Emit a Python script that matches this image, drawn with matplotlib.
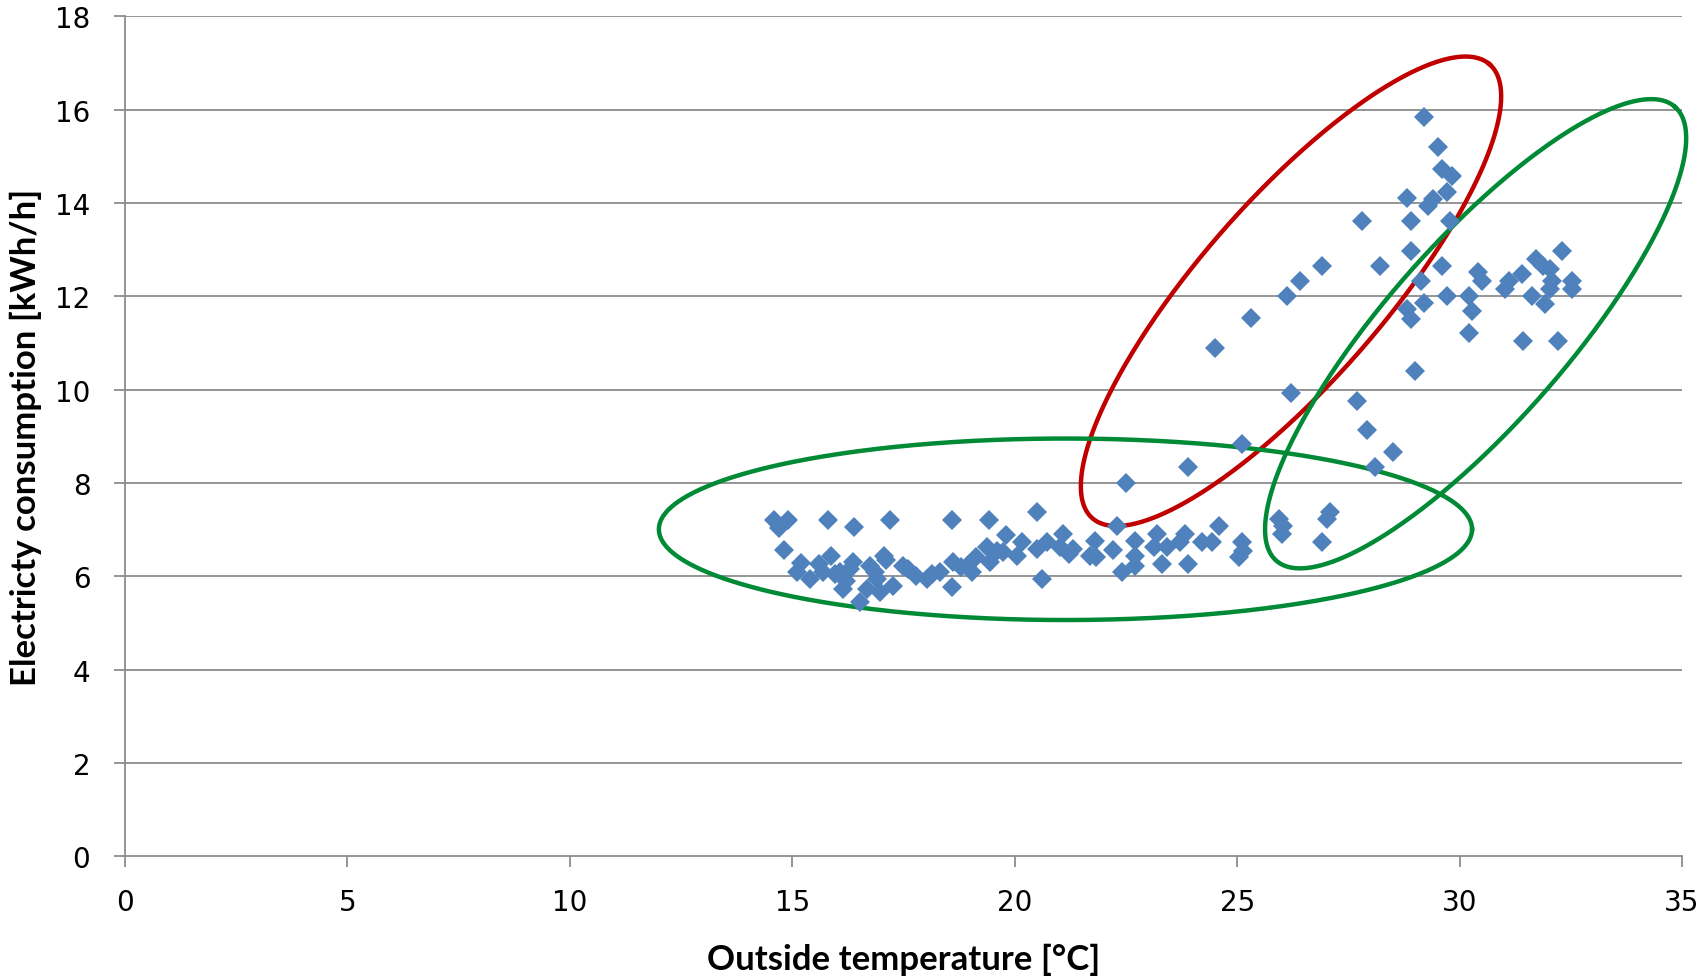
import numpy as np
import matplotlib
matplotlib.use("Agg")
import matplotlib.pyplot as plt

# outside temperature [°C] and electricity use [kWh/h]
temp = [
    14.59, 14.91, 14.69, 14.81, 15.80, 16.39, 17.20, 18.60, 19.41, 19.80,
    15.20, 15.10, 15.40, 15.61, 15.88, 15.70, 16.07, 16.37, 16.15, 16.51,
    16.75, 17.05, 16.90, 17.27, 17.49, 17.79, 18.02, 18.32, 18.58, 18.62,
    18.92, 19.14, 19.44, 19.37, 19.74, 20.04, 20.16, 16.67, 16.97, 16.30,
    15.95, 16.20, 16.85, 17.10, 17.60, 18.15, 18.80, 19.05, 19.60,
    20.51, 20.61, 20.49, 20.72, 21.09, 21.21, 21.32, 21.02, 21.80, 21.69,
    21.83, 22.20, 22.29, 22.40, 22.70, 22.70, 22.70, 23.19, 23.12, 23.30,
    23.42, 23.72, 23.83, 23.90, 24.20, 24.43, 24.60, 25.10, 25.03, 25.14,
    26.04, 25.93, 26.00, 26.90, 27.01, 27.09,
    22.50, 23.90, 25.10, 24.50, 25.31, 26.21,
    29.20, 29.51, 29.61, 29.82, 29.71, 29.41, 29.30, 28.81, 28.91, 29.78,
    27.81, 28.91, 28.20, 26.90, 26.41, 26.11, 29.60, 29.13, 29.20, 28.81,
    28.91, 29.71, 30.21, 30.41, 30.50, 30.29, 30.21, 29.00, 31.02, 31.12,
    31.40, 31.42, 31.71, 31.88, 32.03, 32.31, 31.62, 31.92, 32.07, 32.03,
    32.52, 32.52, 32.22, 27.70, 27.91, 28.10, 28.51,
]
power = [
    7.21, 7.21, 7.03, 6.57, 7.21, 7.05, 7.21, 7.21, 7.21, 6.89,
    6.29, 6.09, 5.94, 6.27, 6.44, 6.09, 6.09, 6.30, 5.73, 5.46,
    6.23, 6.44, 5.94, 5.80, 6.23, 6.01, 5.94, 6.09, 5.77, 6.30,
    6.23, 6.41, 6.30, 6.62, 6.52, 6.44, 6.73, 5.73, 5.66, 6.15,
    6.05, 5.90, 6.10, 6.35, 6.15, 6.05, 6.20, 6.10, 6.55,
    7.37, 5.94, 6.59, 6.73, 6.91, 6.48, 6.59, 6.62, 6.76, 6.44,
    6.41, 6.57, 7.07, 6.09, 6.76, 6.44, 6.23, 6.91, 6.62, 6.27,
    6.62, 6.73, 6.91, 6.27, 6.73, 6.73, 7.07, 6.73, 6.41, 6.55,
    7.07, 7.23, 6.91, 6.73, 7.23, 7.37,
    8.01, 8.34, 8.84, 10.89, 11.54, 9.92,
    15.85, 15.21, 14.73, 14.59, 14.23, 14.09, 13.94, 14.10, 13.61, 13.61,
    13.61, 12.98, 12.66, 12.66, 12.34, 12.01, 12.66, 12.34, 11.85, 11.73,
    11.52, 12.01, 12.01, 12.52, 12.34, 11.69, 11.21, 10.41, 12.16, 12.34,
    12.48, 11.05, 12.80, 12.66, 12.59, 12.97, 12.01, 11.84, 12.34, 12.16,
    12.34, 12.16, 11.05, 9.76, 9.14, 8.34, 8.66,
]

x_ticks = np.arange(0, 36, 5)
y_ticks = np.arange(0, 19, 2)

# hand-drawn style rings: centre (data), semi axes in x-units, angle on screen
rings = [
    (26.21, 12.11, 6.78, 2.05, 48.8, "#C00000"),
    (30.36, 11.20, 6.79, 2.03, 48.7, "#008A36"),
    (21.14, 7.01, 9.14, 2.04, 0.0, "#008A36"),
]

W, H = 17.04, 9.78
fig = plt.figure(figsize=(W, H), dpi=100)
ax = fig.add_axes([0.0734, 0.1233, 0.9137, 0.8589])
ax.set_xlim(0, 35)
ax.set_ylim(0, 18)

grid_col = "#8C8C8C"
ax.set_xticks(x_ticks)
ax.set_yticks(y_ticks)
for yv in y_ticks[1:]:
    ax.axhline(yv, color=grid_col, lw=1.3, zorder=1)

for s in ["top", "right"]:
    ax.spines[s].set_visible(False)
for s in ["left", "bottom"]:
    ax.spines[s].set_color(grid_col)
    ax.spines[s].set_linewidth(1.3)
ax.tick_params(axis="both", direction="out", length=8, width=1.3,
               color=grid_col, labelsize=20)
ax.tick_params(axis="x", pad=15)
ax.tick_params(axis="y", pad=17)

# screen aspect so rings look like the drawn ellipses
pos = ax.get_position()
ratio = (W * pos.width / 35) / (H * pos.height / 18)
t = np.linspace(0, 2 * np.pi, 500)
for cx, cy, a, b, ang, col in rings:
    th = np.radians(ang)
    u, v = a * np.cos(t), b * np.sin(t)
    ex = cx + u * np.cos(th) - v * np.sin(th)
    ey = cy + (u * np.sin(th) + v * np.cos(th)) * ratio
    ax.plot(ex, ey, color=col, lw=3.2, zorder=2, clip_on=False)

ax.plot(temp, power, linestyle="none", marker="D", markersize=10,
        color="#4F81BD", markeredgewidth=0, zorder=3)

ax.set_xlabel("Outside temperature [°C]", fontsize=25, fontweight="bold",
              family=["Lato", "DejaVu Sans"], labelpad=19)
ax.set_ylabel("Electricty consumption [kWh/h]", fontsize=25, fontweight="bold",
              family=["Lato", "DejaVu Sans"], labelpad=9)

fig.savefig("out.png", dpi=100)
